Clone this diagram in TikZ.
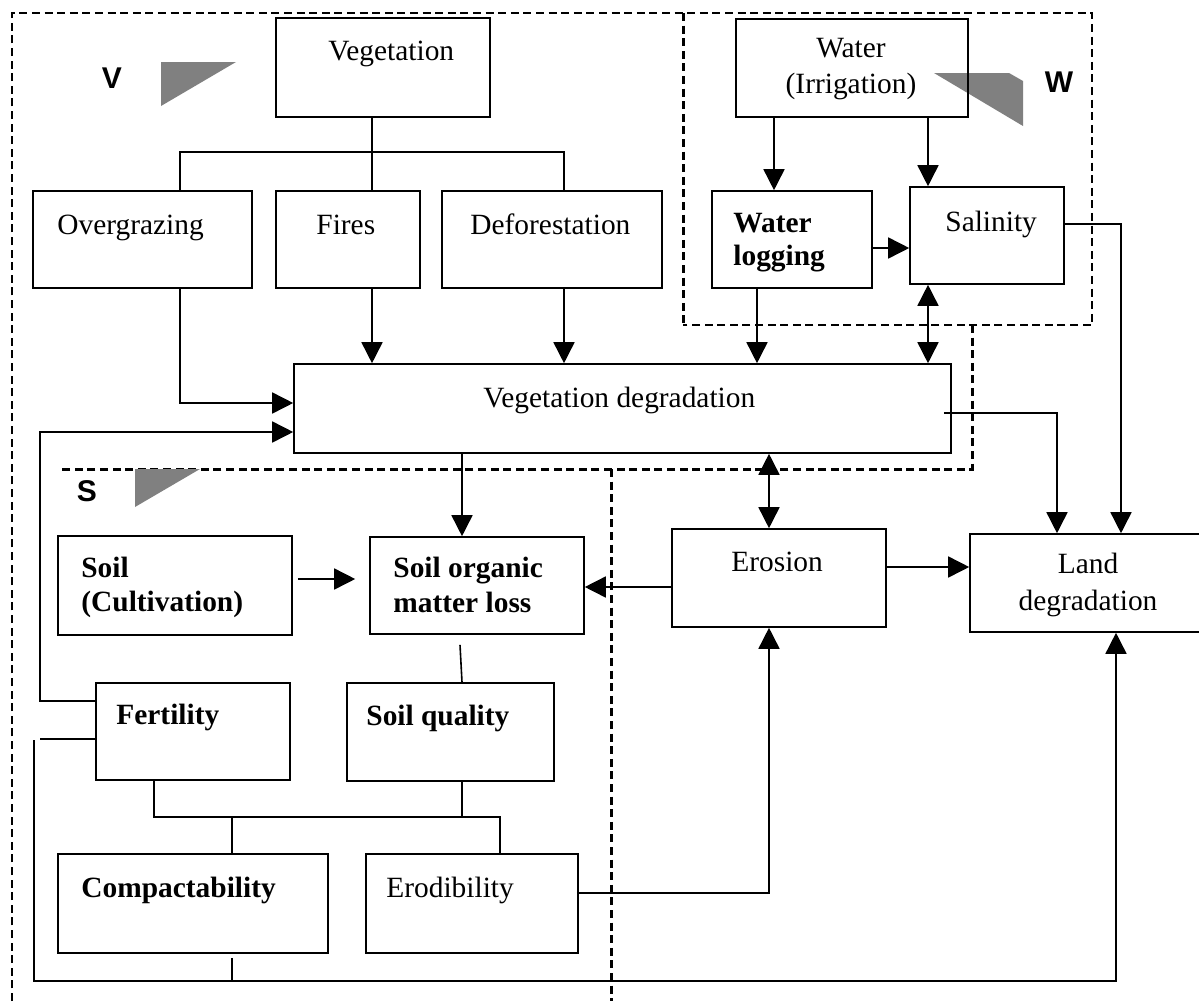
\documentclass[tikz,border=0pt]{standalone}
\usepackage{fontspec}
\setmainfont{Liberation Serif}
\newfontfamily\labfont{Liberation Sans}
\usetikzlibrary{arrows.meta,fit}
\definecolor{tri}{RGB}{128,128,128}
\begin{document}
\begin{tikzpicture}[x=0.5pt,y=-0.5pt,
  font=\fontsize{14.7pt}{17pt}\selectfont,
  box/.style={draw, line width=0.8pt, inner sep=0pt},
  ln/.style={line width=0.8pt},
  arr/.style={ln, -{Triangle[length=10.5pt,width=10.5pt]}},
  dbl/.style={ln, {Triangle[length=10.5pt,width=10.5pt]}-{Triangle[length=10.5pt,width=10.5pt]}},
  txt/.style={inner sep=0pt, anchor=base west},
  btxt/.style={txt, font=\fontsize{14.7pt}{17pt}\selectfont\bfseries},
  ctxt/.style={inner sep=0pt, anchor=base},
  lab/.style={inner sep=0pt, font=\labfont\bfseries\fontsize{15pt}{17pt}\selectfont},
  dthin/.style={line width=0.9pt, dash pattern=on 4pt off 2.3pt},
  dthick/.style={line width=1.5pt, dash pattern=on 4pt off 2.3pt}]
\clip (0,0) rectangle (1199,1001);
\fill[white] (0,0) rectangle (1199,1001);

% dashed region outlines
\draw[dthin] (12,1001) -- (12,13) -- (1092,13) -- (1092,325) -- (683,325);
\draw[dthick] (683,13) -- (683,325);
\draw[dthick] (972,325) -- (972,469) -- (58,469);
\draw[dthick] (611,469) -- (611,1001);

% region markers
\fill[tri] (161,62) -- (236,62) -- (161,106) -- cycle;
\fill[tri] (934,73) -- (1009,73) -- (1023,81) -- (1023,126) -- cycle;
\fill[tri] (135,469) -- (200,469) -- (135,507) -- cycle;
\node[lab] (labV) at (112,78) {V};
\node[lab] (labW) at (1059,82) {W};
\node[lab] (labS) at (87,491) {S};

% boxes
\node[box, fit={(276,18) (490,117)}] (veg) {};
\node[box, fit={(33,191) (252,288)}] (ovg) {};
\node[box, fit={(276,191) (420,288)}] (fires) {};
\node[box, fit={(442,191) (662,288)}] (defo) {};
\node[box, fit={(736,19) (968,117)}] (water) {};
\node[box, fit={(712,191) (872,288)}] (wlog) {};
\node[box, fit={(910,187) (1064,284)}] (sal) {};
\node[box, fit={(294,364) (951,453)}] (vd) {};
\node[box, fit={(672,529) (886,627)}] (ero) {};
\node[box, fit={(970,534) (1210,632)}] (land) {};
\node[box, fit={(58,536) (292,635)}] (soil) {};
\node[box, fit={(370,537) (584,634)}] (som) {};
\node[box, fit={(96,683) (290,780)}] (fert) {};
\node[box, fit={(347,683) (554,781)}] (sq) {};
\node[box, fit={(58,854) (328,953)}] (comp) {};
\node[box, fit={(366,854) (578,953)}] (erod) {};

% texts
\node[txt] (tveg) at (328,61) {Vegetation};
\node[txt] (tovg) at (57,234) {Overgrazing};
\node[txt] (tfires) at (316,234) {Fires};
\node[txt] (tdefo) at (470,234) {Deforestation};
\node[ctxt] (twa1) at (851,57) {Water};
\node[ctxt] (twa2) at (851,93) {(Irrigation)};
\node[btxt] (twl1) at (733,232) {Water};
\node[btxt] (twl2) at (733,265) {logging};
\node[txt] (tsal) at (945,231) {Salinity};
\node[txt] (tvd) at (483,407) {Vegetation degradation};
\node[txt] (tero) at (731,571) {Erosion};
\node[ctxt] (tla1) at (1088,573) {Land};
\node[ctxt] (tla2) at (1088,610) {degradation};
\node[btxt] (tso1) at (81,577) {Soil};
\node[btxt] (tso2) at (81,611) {(Cultivation)};
\node[btxt] (tsom1) at (393,577) {Soil organic};
\node[btxt] (tsom2) at (393,612) {matter loss};
\node[btxt] (tfert) at (116,724) {Fertility};
\node[btxt] (tsq) at (366,725) {Soil quality};
\node[btxt] (tcomp) at (81,897) {Compactability};
\node[txt] (terod) at (386,897) {Erodibility};

% column / row helper coordinates
\coordinate (cA) at (180,0);
\coordinate (cB) at (372,0);
\coordinate (cC) at (564,0);
\coordinate (cD) at (774,0);
\coordinate (cE) at (928,0);
\coordinate (cF) at (757,0);
\coordinate (cG) at (462,0);
\coordinate (cG2) at (460,0);
\coordinate (cH) at (769,0);
\coordinate (cI) at (1057,0);
\coordinate (cJ) at (1121,0);
\coordinate (cK) at (1116,0);
\coordinate (cL) at (154,0);
\coordinate (cM) at (232,0);
\coordinate (cN) at (500,0);
\coordinate (cO) at (40,0);
\coordinate (cP) at (34,0);
\coordinate (rA) at (0,152);
\coordinate (rB) at (0,403);
\coordinate (rC) at (0,432);
\coordinate (rD) at (0,413);
\coordinate (rE) at (0,224);
\coordinate (rF) at (0,248);
\coordinate (rG) at (0,567);
\coordinate (rH) at (0,587);
\coordinate (rI) at (0,579);
\coordinate (rJ) at (0,893);
\coordinate (rK) at (0,981);
\coordinate (rL) at (0,817);
\coordinate (rM) at (0,701);
\coordinate (rN) at (0,739);

% vegetation tree
\draw[ln] (veg.south -| cB) -- (fires.north -| cB);
\draw[ln] (ovg.north -| cA) |- (rA -| cC) -- (defo.north -| cC);
\draw[arr] (fires.south -| cB) -- (vd.north -| cB);
\draw[arr] (defo.south -| cC) -- (vd.north -| cC);
\draw[arr] (ovg.south -| cA) |- (vd.west |- rB);

% water
\draw[arr] (water.south -| cD) -- (wlog.north -| cD);
\draw[arr] (water.south -| cE) -- (sal.north -| cE);
\draw[arr] ([xshift=-1pt]wlog.east |- rF) -- (sal.west |- rF);
\draw[arr] (wlog.south -| cF) -- (vd.north -| cF);
\draw[dbl] (sal.south -| cE) -- (vd.north -| cE);
\draw[arr] ([xshift=-0.5pt]sal.east |- rE) -| (land.north -| cJ);

% vegetation degradation outputs
\draw[arr] ([xshift=-4pt]vd.east |- rD) -| (land.north -| cI);
\draw[arr] (vd.south -| cG) -- (som.north -| cG);
\draw[dbl] (vd.south -| cH) -- (ero.north -| cH);

% erosion
\draw[arr] (ero.east |- rG) -- (land.west |- rG);
\draw[arr] (ero.west |- rH) -- (som.east |- rH);

% soil
\draw[arr] ([xshift=2.5pt]soil.east |- rI) -- ([xshift=-7pt]som.west |- rI);
\draw[ln] ([yshift=-5pt]som.south -| cG2) -- (sq.north -| cG);
\draw[arr] (fert.west |- rM) -| (cO |- rC) -- (vd.west |- rC);
\draw[ln] (fert.west |- rN) -- (cO |- rN);
\draw[arr] ([yshift=-0.5pt]cP |- rN) |- (rK -| cK) -- (land.south -| cK);
\draw[ln] ([yshift=-2pt]comp.south -| cM) -- (rK -| cM);
\draw[ln] (fert.south -| cL) |- (rL -| cN) -- (erod.north -| cN);
\draw[ln] (sq.south -| cG) -- (rL -| cG);
\draw[ln] (rL -| cM) -- (comp.north -| cM);
\draw[arr] ([xshift=-1pt]erod.east |- rJ) -| (ero.south -| cH);
\end{tikzpicture}
\end{document}
